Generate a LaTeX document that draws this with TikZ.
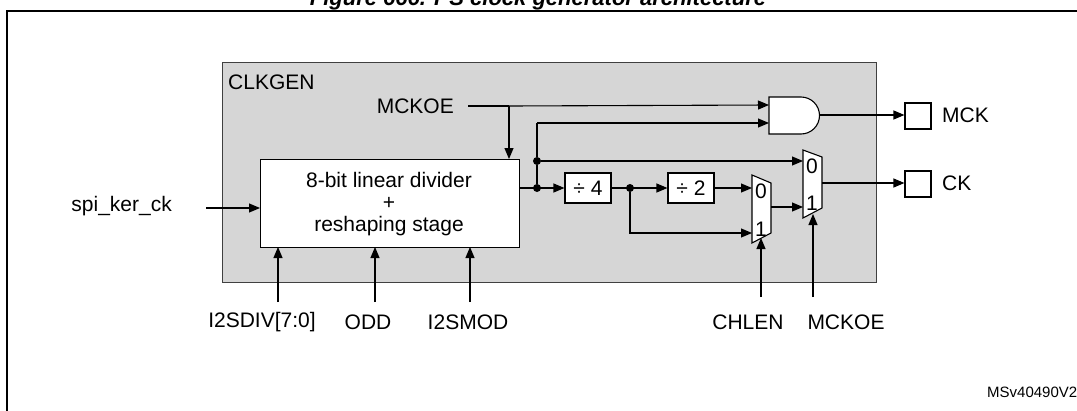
\documentclass[tikz,border=0pt]{standalone}
\usepackage{fontspec}
\setmainfont{Liberation Sans}
\usetikzlibrary{arrows.meta}
\begin{document}
\begin{tikzpicture}[x=1pt,y=-1pt,
  every node/.style={font=\fontsize{21}{24}\selectfont,inner sep=0pt},
  wire/.style={line width=1.1pt},
  arr/.style={wire,-{Triangle[length=11pt,width=9pt]}},
  blk/.style={draw,line width=1.1pt,fill=white},
  dot/.style={circle,fill=black,minimum size=8pt}]
\useasboundingbox (0,0) rectangle (1077,410);
\node[font=\fontsize{22}{24}\selectfont\bfseries\itshape,anchor=base] (title) at (538,5) {Figure 666. I\textsuperscript{2}S clock generator architecture};
\draw[line width=1.5pt] (7,411) -- (7,11) -- (1078,11);
\node[draw,line width=1.2pt,draw=black!75,fill=black!16,minimum width=654pt,minimum height=220pt,anchor=north west] (clk) at (222,62) {};
\node[anchor=west] (clkt) at (228,82) {CLKGEN};
\node[blk,minimum width=259pt,minimum height=88pt,anchor=north west] (div) at (260,159) {};
\node (l1) at (389,180) {8-bit linear divider};
\node (l2) at (389,203) {+};
\node (l3) at (389,226) {reshaping stage};
\node[anchor=east] (spi) at (172,206) {spi\_ker\_ck};
\coordinate (spiS) at (206,208);
\draw[arr] (spiS) -- (div.west |- spiS);
\node[anchor=east] (mckoe) at (454,106) {MCKOE};
\node[blk,minimum width=46pt,minimum height=30pt] (d4) at (588,188) {÷ 4};
\node[blk,minimum width=46pt,minimum height=30pt] (d2) at (691,188) {÷ 2};
% AND gate
\draw[blk] (769,97) -- (801,97) arc[start angle=-90,end angle=90,radius=18.5] -- (769,134) -- cycle;
\coordinate (andA) at (769,105); \coordinate (andB) at (769,123); \coordinate (andO) at (820,115);
% muxes
\draw[blk] (752,175) -- (771,183) -- (771,233) -- (752,243) -- cycle;
\node at (761,191) {0}; \node at (761,229) {1};
\draw[blk] (803,150) -- (822,157) -- (822,208) -- (803,218) -- cycle;
\node at (812,166) {0}; \node at (812,203) {1};
\node[blk,minimum size=26pt] (mckb) at (918,116) {};
\node[blk,minimum size=26pt] (ckb) at (918,184) {};
\node[anchor=west] (mckt) at (942,115) {MCK};
\node[anchor=west] (ckt) at (942,183) {CK};
\node[dot] (p1) at (537,188) {}; \node[dot] (p2) at (537,161) {}; \node[dot] (p3) at (630,188) {};
\coordinate (mtop) at (509,106);
\draw[wire] (468,106) -- (mtop);
\draw[arr] (mtop) -- (andA);
\draw[arr] (mtop) -- (509,159);
\draw[arr] (div.east |- p1) -- (d4.west);
\draw[wire] (p1) -- (p2) -- (537,123);
\draw[arr] (537,123) -- (andB);
\draw[arr] (p2) -- (803,161);
\draw[arr] (d4.east) -- (d2.west);
\draw[arr] (d2.east) -- (752,188);
\draw[arr] (p3) -- (630,233) -- (752,233);
\draw[arr] (771,207) -- (803,207);
\draw[arr] (andO) -- (mckb.west |- andO);
\draw[arr] (822,183) -- (ckb.west |- 0,183);
\node (chlen) at (748,322) {CHLEN};
\node (mck2) at (846,322) {MCKOE};
\draw[arr] (761,297) -- (761,238);
\draw[arr] (813,297) -- (813,214);
\node (i2sdiv) at (262,322) {I2SDIV[7:0]};
\node (odd) at (368,322) {ODD};
\node (i2smod) at (468,322) {I2SMOD};
\draw[arr] (278,302) -- (278,247);
\draw[arr] (375,302) -- (375,247);
\draw[arr] (470,302) -- (470,247);
\node[anchor=west,font=\fontsize{15}{17}\selectfont] (ms) at (987,392) {MSv40490V2};
\end{tikzpicture}
\end{document}
